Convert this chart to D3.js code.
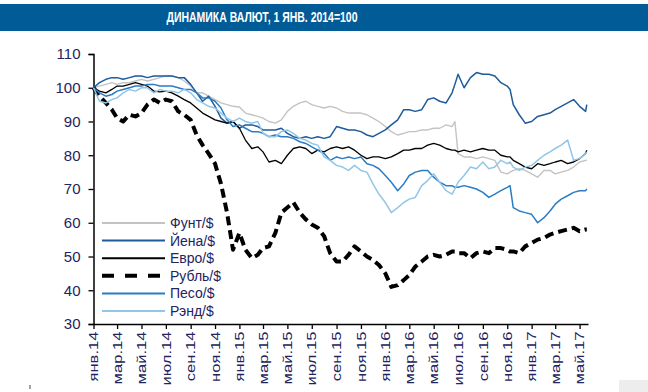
<!DOCTYPE html>
<html><head><meta charset="utf-8">
<script src="https://cdn.jsdelivr.net/npm/d3@7"></script>
<style>body{margin:0;background:#fff}svg{display:block}</style>
</head><body><svg id="c" width="648" height="392"></svg>
<script>
const titleText = "ДИНАМИКА ВАЛЮТ, 1 ЯНВ. 2014=100";
const dates = [
 "2014-01-01","2014-01-16","2014-02-01","2014-02-16","2014-03-01","2014-03-16","2014-04-01","2014-04-16","2014-05-01","2014-05-16","2014-06-01","2014-06-16",
 "2014-07-01","2014-07-16","2014-08-01","2014-08-16","2014-09-01","2014-09-16","2014-10-01","2014-10-16","2014-11-01","2014-11-16","2014-12-01","2014-12-16",
 "2015-01-01","2015-01-16","2015-02-01","2015-02-16","2015-03-01","2015-03-16","2015-04-01","2015-04-16","2015-05-01","2015-05-16","2015-06-01","2015-06-16",
 "2015-07-01","2015-07-16","2015-08-01","2015-08-16","2015-09-01","2015-09-16","2015-10-01","2015-10-16","2015-11-01","2015-11-16","2015-12-01","2015-12-16",
 "2016-01-01","2016-01-16","2016-02-01","2016-02-16","2016-03-01","2016-03-16","2016-04-01","2016-04-16","2016-05-01","2016-05-16","2016-06-01","2016-06-16",
 "2016-06-23","2016-07-01","2016-07-16","2016-08-01","2016-08-16","2016-09-01","2016-09-16","2016-10-01","2016-10-16","2016-11-01","2016-11-08","2016-11-16","2016-12-01","2016-12-16",
 "2017-01-01","2017-01-16","2017-02-01","2017-02-16","2017-03-01","2017-03-16","2017-04-01","2017-04-16","2017-05-01","2017-05-16","2017-05-19"
];
const pound = [
 100,100.5,101,101.5,101,101.5,101.5,102,102.5,102,102.5,103,
 103.5,103.5,103,102,100.5,98.5,98.5,97.5,96.5,95.5,95,94.5,
 94.3,92.5,92,91.5,91,90,89.5,90.5,93,94.5,95.5,96,
 95,94.5,94,94.5,94,93,92.5,92.5,92.5,92,91,90,
 88.5,87,86,86.5,87,87,87.5,87.5,88,88,89,88.5,
 90,80.5,79.5,79.5,79,79.5,79,78.5,75,74.5,75,75.5,76,75.5,
 74.5,73.5,75.5,75.5,74.5,75,75.5,76.5,78,78.5,78.5
];
const yen = [
 100,101.5,102.5,103,103,102.5,103,103.5,103.5,103,103.5,103.5,
 103.5,103.5,103,103,101,98.5,96,97.5,94.5,91,89.5,90,
 88,89,89,88.5,87.5,87.5,87.5,88,86.5,85.5,85,85.5,
 85,85.5,85,85.5,88.5,88,87.5,87.5,87,86,85.5,86.5,
 87.5,89,90.5,93.5,93.5,93,93.5,96.5,97,96,95.5,98.5,
 101,104,100,103,104.5,104,104,103.5,101.5,100.5,99.5,95,92,89.5,
 90,91.5,92,92.5,93.5,94.5,95.5,96.5,94.5,93,95
];
const euro = [
 100,99,98.5,99.5,100.5,100.5,101,101.5,101,100.5,99,98.8,
 99,98.5,97.5,96.5,95.5,94,92.5,91.5,90.5,90,89.5,90,
 88,84.5,82,82.5,81,78,78.5,77.5,80,82,82.5,82,
 80.5,81.5,81,82,82.5,82,82.5,81.5,80,79,79.5,79.5,
 79,79.5,80.5,81.5,81.5,82,82,83,83.5,83,82,81.5,
 81.5,81,81.5,81,81.5,82,81.5,81.5,80,79.5,79.5,78.5,77.5,76.5,
 76,77.5,77,77.5,78,78.5,77.5,78,79,80.5,81.5
];
const ruble = [
 100,97.5,95.5,93.5,91,90,92,91.5,92.5,95,96.5,95.5,
 96.5,96,93,92,90.5,86,83,80.5,77.5,71.5,63,52,
 57,52,49.5,50.5,52.5,53,57,63,64.5,66,63,61,
 59.5,58.5,56,51,48.5,48.5,50.5,53,51.5,50,49,47.5,
 45,41,41.5,43,44.5,47,48.5,50,50.5,50,50.5,51.5,
 51.5,51,51,49.5,51,51.5,51,52.5,52.5,52,51.5,51.5,51,53,
 54,55,55.5,56.5,57,57.5,58,58.5,57.5,58,58
];
const peso = [
 100,98.5,97.5,98,99,99.5,100,100.5,100.5,101,101,100.5,
 100.5,100.5,100,99.5,99.5,98.5,97,97,96,94,90.5,88.5,
 89,88,87,87,86.5,85.5,86,85.5,85.5,85,84,83.5,
 82.5,81.5,80.5,78.5,79.5,79,79.5,79,79.5,77.5,77,76,
 74,72,69.5,71.5,74,75,75.5,75.5,73.5,72,71,71,
 70.5,70.5,71,70.5,70,69,67.5,68.5,69.5,70.5,71,64.5,63.5,63,
 62.5,60,61.5,63.5,65.5,67,68,69,69.5,69.5,70
];
const rand = [
 100,96,95.5,96.5,97,98.5,99.5,99,100,100,98.5,99.5,
 99,99,98.5,99.5,98.5,96.5,95.5,94.5,94,92.5,91,90,
 91,90,89.5,90,86.5,85.5,85.5,87,87.5,86.5,85,84.5,
 83.5,83,79.5,78.5,77,76.5,75.5,77,75.5,75,71.5,68.5,
 66,63,64.5,66,67,67.5,71,72.5,74.5,72,69.5,68.5,
 70,72,74,76.5,76,78,76,76.5,78.5,77.5,78,76.5,75.5,76.5,
 77,78.5,80,81,82,83,84.5,78.5,79,80.5,81
];
const seriesNames = ["Фунт/$","Йена/$","Евро/$","Рубль/$","Песо/$","Рэнд/$"];
const yTicks = [30,40,50,60,70,80,90,100,110];
const monthNames = ["янв","фев","мар","апр","май","июн","июл","авг","сен","окт","ноя","дек"];

const seriesValues = [pound, yen, euro, ruble, peso, rand];
const seriesStyle = [
 {color:"#c3c3c3", width:1.4, dash:null},
 {color:"#1d5b9b", width:1.5, dash:null},
 {color:"#000000", width:1.3, dash:null},
 {color:"#000000", width:4, dash:"9,5"},
 {color:"#2b7cc3", width:1.5, dash:null},
 {color:"#92c6e9", width:1.5, dash:null}
];

const svg = d3.select("#c");
const parse = d3.timeParse("%Y-%m-%d");
const dts = dates.map(parse);

// title bar
svg.append("rect").attr("x",0).attr("y",4).attr("width",648).attr("height",27).attr("fill","#005b97");
svg.append("text").attr("x",262).attr("y",22).attr("text-anchor","middle")
  .attr("font-family","Arial, 'Liberation Sans', sans-serif").attr("font-weight","bold").attr("font-size",14)
  .attr("fill","#fff").attr("textLength",191).attr("lengthAdjust","spacingAndGlyphs").text(titleText);

const x = d3.scaleTime().domain([parse("2014-01-01"), parse("2017-05-22")]).range([93.5, 588]);
const y = d3.scaleLinear().domain([30,110]).range([324,54]);

const font = "Arial, 'Liberation Sans', sans-serif";
const txtColor = "#23235e";

// y axis
const ya = svg.append("g").attr("transform","translate(93.5,0)")
  .call(d3.axisLeft(y).tickValues(yTicks).tickSize(5).tickPadding(8).tickFormat(d3.format("d")));
ya.select(".domain").attr("stroke","#000").attr("stroke-width",1.5);
ya.selectAll(".tick line").attr("stroke","#000").attr("stroke-width",1.3);
ya.selectAll(".tick text").attr("font-family",font).attr("font-size",15).attr("fill",txtColor).attr("x",-13);

// x axis
const xTicks = d3.timeMonth.every(2).range(parse("2014-01-01"), parse("2017-05-02"));
const xa = svg.append("g").attr("transform","translate(0,324)")
  .call(d3.axisBottom(x).tickValues(xTicks).tickSize(5).tickSizeOuter(0)
    .tickFormat(d => monthNames[d.getMonth()] + "." + String(d.getFullYear()).slice(2)));
xa.select(".domain").attr("stroke","#000").attr("stroke-width",1.5);
xa.selectAll(".tick line").attr("stroke","#000").attr("stroke-width",1.3);
xa.selectAll(".tick text").attr("font-family",font).attr("font-size",12).attr("fill",txtColor)
  .attr("text-anchor","end").attr("transform","rotate(-90) scale(1.38,1)")
  .attr("x",-5.5).attr("y",0).attr("dy","0.35em");

// lines
const line = d3.line().x((d,i)=>x(dts[i])).y(d=>y(d));
seriesValues.forEach((vals,k)=>{
  const st = seriesStyle[k];
  const p = svg.append("path").datum(vals).attr("d",line).attr("fill","none")
    .attr("stroke",st.color).attr("stroke-width",st.width).attr("stroke-linejoin","round");
  if (st.dash) p.attr("stroke-dasharray",st.dash).attr("stroke-linecap","butt");
});

// legend
const lg = svg.append("g");
seriesNames.forEach((name,k)=>{
  const st = seriesStyle[k];
  const yy = 223 + k*17.6;
  const l = lg.append("line").attr("x1",102).attr("x2",165).attr("y1",yy).attr("y2",yy)
    .attr("stroke",st.color).attr("stroke-width",st.dash ? 4 : 2);
  if (st.dash) l.attr("stroke-dasharray","12,11");
  lg.append("text").attr("x",170).attr("y",yy).attr("dy","0.36em")
    .attr("font-family",font).attr("font-size",14).attr("fill",txtColor).text(name);
});

// small decorations
svg.append("rect").attr("x",619).attr("y",380).attr("width",29).attr("height",12).attr("fill","#ededed");
svg.append("line").attr("x1",30).attr("x2",30).attr("y1",385).attr("y2",389).attr("stroke","#444").attr("stroke-width",1);
</script></body></html>
